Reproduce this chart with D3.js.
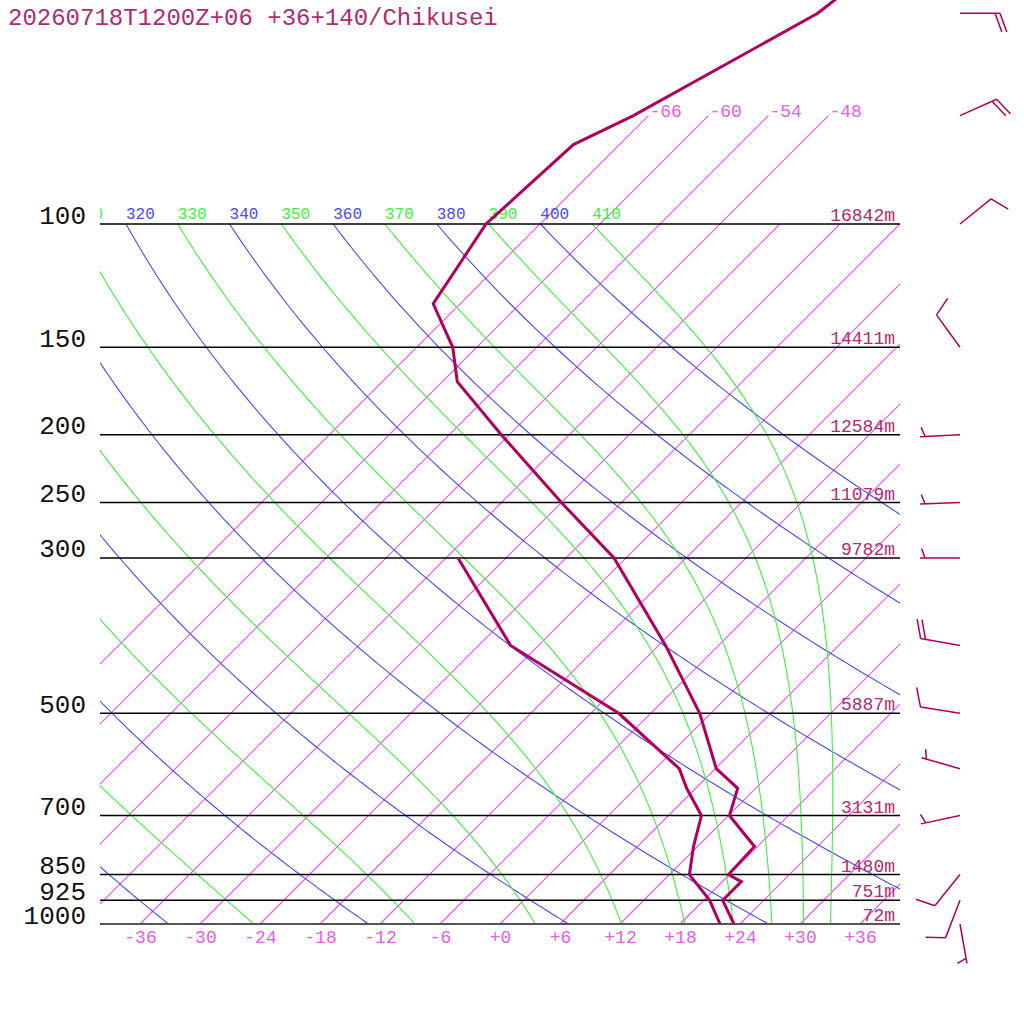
<!DOCTYPE html>
<html>
  <head>
    <meta charset="utf-8">
    <title>Skew-T 20260718T1200Z Chikusei</title>
    <script src="https://cdn.jsdelivr.net/npm/d3@7"></script>
    <style>
      body { margin: 0; background: #fff; }
      svg { display: block; font-family: "Liberation Mono", monospace; }
    </style>
  </head>
  <body>
    <svg id="chart" width="1024" height="1024"></svg>
    <script>
      // sounding values
      var title = "20260718T1200Z+06 +36+140/Chikusei";

      var levels = [100, 150, 200, 250, 300, 500, 700, 850, 925, 1000];
      var heights = ["16842m", "14411m", "12584m", "11079m", "9782m", "5887m", "3131m", "1480m", "751m", "72m"];

      var tempP = [1000, 925, 870, 850, 775, 700, 640, 600, 500, 400, 300, 250, 200, 168, 150, 130, 100, 77, 70, 50, 30];
      var tempT = [23.4, 19.9, 19.9, 17.9, 17.7, 12.1, 10.2, 6.1, -1.1, -11.3, -25.2, -36.0, -48.8, -58.5, -62.4, -68.7, -71.4, -70.6, -67.5, -59.3, -55.0];

      var dewP = [1000, 925, 850, 775, 700, 640, 600, 500, 400, 300];
      var dewT = [22.0, 18.6, 14.0, 11.6, 9.3, 5.1, 2.4, -9.2, -26.8, -40.8];

      var windP = [50, 70, 100, 150, 200, 250, 300, 400, 500, 600, 700, 850, 925, 1000];
      var windDir = [90, 66, 51, 324, 267, 268, 270, 280, 279, 286, 258, 219, 201, 170];
      var windSpd = [20, 20, 10, 10, 5, 5, 5, 20, 10, 5, 5, 10, 10, 5];

      var tempTicks = [-36, -30, -24, -18, -12, -6, 0, 6, 12, 18, 24, 30, 36];
      var isotherms = [-66, -60, -54, -48, -42, -36, -30, -24, -18, -12, -6, 0, 6, 12, 18, 24, 30, 36];
      var topIsotherms = [-66, -60, -54, -48];   // these run up to 70 hPa, labelled
      var dryTheta = [240, 260, 280, 300, 320, 340, 360, 380, 400];
      var moistTheta = [250, 270, 290, 310, 330, 350, 370, 390, 410];

      var C_PROFILE = "#b0005c", C_TEXT = "#b02a70", C_ISO = "#f050f0", C_ISOTXT = "#e460e4";
      var C_DRY = "#4848ff", C_MOIST = "#40f040";

      var svg = d3.select("#chart");
      svg.append("rect").attr("width", 1024).attr("height", 1024).attr("fill", "#fff");

      var y = d3.scaleLog().domain([1000, 100]).range([924, 224]);
      var xT = d3.scaleLinear().domain([-40, 40]).range([100, 900]);
      function sx(T, p) { return xT(T) + (y(1000) - y(p)); }

      svg.append("clipPath").attr("id", "plot")
        .append("rect").attr("x", 100).attr("y", 0).attr("width", 800).attr("height", 925);
      var grid = svg.append("g").attr("clip-path", "url(#plot)");

      var K = 0.2857;
      function pRange(pTop) { return d3.range(1000, pTop - 0.01, -5); }

      // isotherms: [p, T in C] points through the same line generator
      var isoLine = d3.line().x(function (d) { return sx(d[1], d[0]); }).y(function (d) { return y(d[0]); });
      isotherms.forEach(function (t) {
        var pTop = topIsotherms.indexOf(t) >= 0 ? 70 : 100;
        var pts = [[1000, t], [500, t], [pTop, t]];
        grid.append("path").attr("d", isoLine(pts))
          .attr("fill", "none").attr("stroke", C_ISO).attr("stroke-width", 1.1);
      });
      topIsotherms.forEach(function (t) {
        svg.append("text").attr("x", sx(t, 70) + 1).attr("y", y(70) + 1)
          .attr("font-size", 18).attr("fill", C_ISOTXT).text(t);
      });

      // dry adiabats
      var curve = d3.line().x(function (d) { return sx(d[1] - 273.15, d[0]); }).y(function (d) { return y(d[0]); });
      function isoLabel(th, color) {
        var lx = sx(th * Math.pow(0.1, K) - 273.15, 100);
        if (lx < 60) return;
        grid.append("text").attr("x", lx).attr("y", y(100) - 5)
          .attr("font-size", 16).attr("fill", color).text(th);
      }
      dryTheta.forEach(function (th) {
        var pts = pRange(100).map(function (p) { return [p, th * Math.pow(p / 1000, K)]; });
        grid.append("path").attr("d", curve(pts)).attr("fill", "none")
          .attr("stroke", C_DRY).attr("stroke-width", 1.1);
        isoLabel(th, C_DRY);
      });

      // pseudo-adiabats, started at 100 hPa from the dry value and run down
      function lapse(p, T) {
        var es = 6.112 * Math.exp(17.67 * (T - 273.15) / (T - 29.65));
        var rs = 0.622 * es / (p - es);
        var num = (287.04 * T + 2.501e6 * rs) / p;
        var den = 1005.7 + (2.501e6 * 2.501e6 * rs * 0.622) / (287.04 * T * T);
        return num / den;
      }
      moistTheta.forEach(function (th) {
        var p = 100, T = th * Math.pow(0.1, K), pts = [[p, T]], dp = 2;
        while (p < 1000) {
          var k1 = lapse(p, T);
          var k2 = lapse(p + dp, T + k1 * dp);
          T += 0.5 * (k1 + k2) * dp;
          p += dp;
          pts.push([p, T]);
        }
        grid.append("path").attr("d", curve(pts)).attr("fill", "none")
          .attr("stroke", C_MOIST).attr("stroke-width", 1.1);
        isoLabel(th, C_MOIST);
      });

      // pressure lines
      svg.selectAll(".plev").data(levels).enter().append("line")
        .attr("class", "plev")
        .attr("x1", 100).attr("x2", 900)
        .attr("y1", function (d) { return y(d); }).attr("y2", function (d) { return y(d); })
        .attr("stroke", function (d) { return d == 1000 ? "#555" : "#000"; })
        .attr("stroke-width", function (d) { return d == 1000 ? 2 : 1.5; });

      svg.selectAll(".hgt").data(levels).enter().append("text")
        .attr("class", "hgt")
        .attr("x", 895).attr("y", function (d) { return y(d) - 3; })
        .attr("text-anchor", "end").attr("font-size", 18).attr("fill", C_TEXT)
        .text(function (d, i) { return heights[i]; });

      // axes
      var yAxis = svg.append("g").attr("transform", "translate(100,0)")
        .call(d3.axisLeft(y).tickValues(levels).tickFormat(d3.format("d")).tickSize(0).tickPadding(14));
      yAxis.select(".domain").remove();
      yAxis.selectAll("text").attr("font-size", 26).attr("font-family", "Liberation Mono, monospace")
        .attr("fill", "#111").attr("dy", -1);

      var xAxis = svg.append("g").attr("transform", "translate(0,924)")
        .call(d3.axisBottom(xT).tickValues(tempTicks).tickSize(0).tickPadding(6)
          .tickFormat(function (d) { return (d >= 0 ? "+" : "-") + Math.abs(d); }));
      xAxis.select(".domain").remove();
      xAxis.selectAll("text").attr("font-size", 18).attr("font-family", "Liberation Mono, monospace")
        .attr("fill", C_ISOTXT);

      // profiles
      var prof = d3.line().x(function (d) { return sx(d[1], d[0]); }).y(function (d) { return y(d[0]); });
      svg.append("path").attr("d", prof(dewP.map(function (p, i) { return [p, dewT[i]]; })))
        .attr("fill", "none").attr("stroke", C_PROFILE).attr("stroke-width", 3).attr("stroke-linejoin", "miter");
      svg.append("path").attr("d", prof(tempP.map(function (p, i) { return [p, tempT[i]]; })))
        .attr("fill", "none").attr("stroke", C_PROFILE).attr("stroke-width", 3).attr("stroke-linejoin", "miter");

      // wind barbs
      var barbs = svg.append("g").attr("stroke", C_PROFILE).attr("stroke-width", 1.5).attr("fill", "none");
      windP.forEach(function (p, i) {
        var a = windDir[i] * Math.PI / 180;
        var ux = Math.sin(a), uy = -Math.cos(a);
        var ox = 960, oy = y(p);
        var tx = ox + 40 * ux, ty = oy + 40 * uy;
        var ang = Math.atan2(uy, ux) + 70 * Math.PI / 180;
        var bx = Math.cos(ang), by = Math.sin(ang);
        var d = "M" + ox + "," + oy + "L" + tx + "," + ty;
        var full = Math.floor(windSpd[i] / 10), half = (windSpd[i] % 10) >= 5;
        var k = 0;
        for (var f = 0; f < full; f++, k++) {
          var px = tx - k * 5 * ux, py = ty - k * 5 * uy;
          d += "M" + px + "," + py + "l" + (20 * bx) + "," + (20 * by);
        }
        if (half) {
          if (k == 0) k = 1;
          var hx = tx - k * 5 * ux, hy = ty - k * 5 * uy;
          d += "M" + hx + "," + hy + "l" + (10 * bx) + "," + (10 * by);
        }
        barbs.append("path").attr("d", d);
      });

      svg.append("text").attr("x", 8).attr("y", 25).attr("font-size", 24)
        .attr("fill", C_TEXT).text(title);
    </script>
  </body>
</html>
